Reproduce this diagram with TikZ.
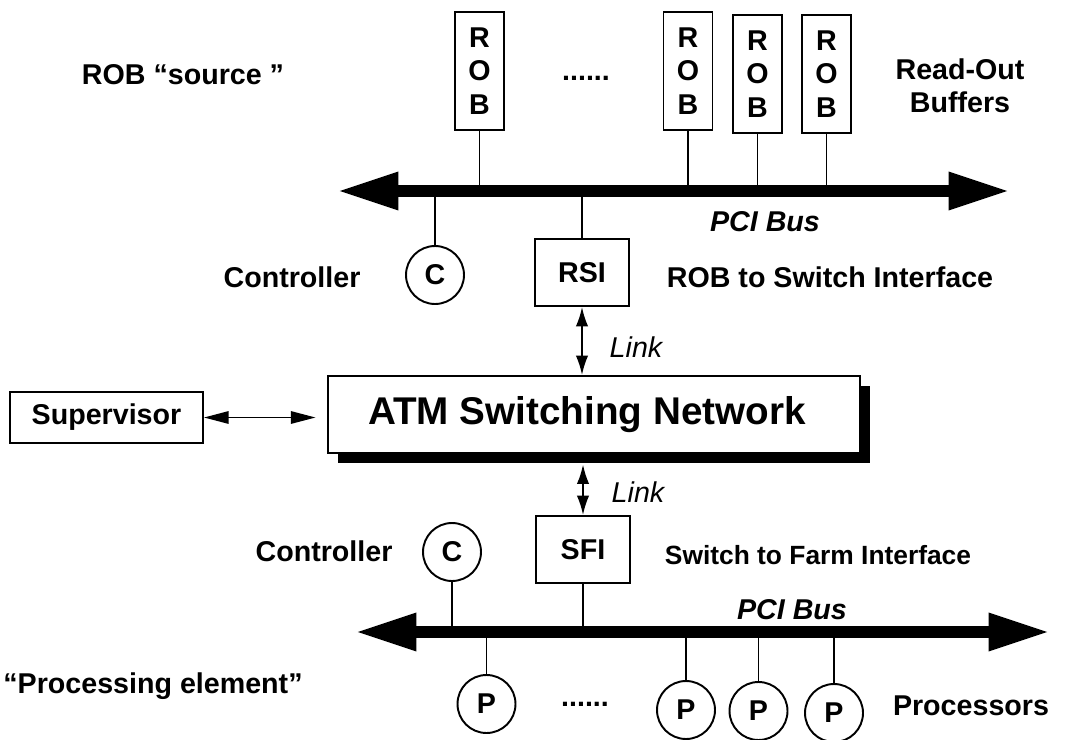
\documentclass[tikz,border=0pt]{standalone}
\usepackage{fontspec}
\setmainfont{Liberation Sans}
\usetikzlibrary{arrows.meta,shapes.geometric,shadows}

\tikzset{
  txt/.style={font=\fontsize{16.3}{19}\selectfont\bfseries},
  itxt/.style={font=\fontsize{16.3}{19}\selectfont\itshape},
  bitxt/.style={font=\fontsize{16.3}{19}\selectfont\bfseries\itshape},
  robbox/.style={draw, line width=1.1pt, txt, align=center, minimum width=0.98cm, minimum height=2.36cm, inner sep=0pt},
  ibox/.style={draw, line width=1.1pt, txt, minimum width=1.88cm, minimum height=1.34cm},
  pnode/.style={circle, draw, line width=1.1pt, txt, minimum size=1.16cm, inner sep=0pt},
  bus/.style={line width=6.8pt, {Triangle[length=35pt,width=20pt]}-{Triangle[length=35pt,width=20pt]}},
  link/.style={line width=1.1pt, {Latex[length=11pt,width=7pt]}-{Latex[length=11pt,width=7pt]}}
}

\begin{document}
\begin{tikzpicture}[x=0.02cm, y=-0.02cm]
    \useasboundingbox (0,0) rectangle (1078,740);

    % Parte de arriba
    \node[txt] (src) at (183,75) {ROB “source ”};
    \node[robbox] (rob1) at (479.5,71) {R\\O\\B};
    \node[robbox] (rob2) at (688,71) {R\\O\\B};
    \node[robbox] (rob3) at (757.5,74) {R\\O\\B};
    \node[robbox] (rob4) at (826.5,74) {R\\O\\B};
    \node[txt] (dots1) at (586,78) {......};
    \node[txt, align=center] (rdo) at (960,86) {Read-Out\\Buffers};

    \coordinate (busAL) at (337,191);
    \coordinate (busAR) at (1010,191);

    \node[pnode] (c1) at (435,275) {C};
    \node[ibox] (rsi) at (582,272.5) {RSI};
    \node[txt] (ctl1) at (292,277) {Controller};
    \node[txt] (rsitxt) at (830,277) {ROB to Switch Interface};
    \node[bitxt] (pci1) at (765,222) {PCI Bus};

    \draw[line width=1.1pt] (rob1.south) -- (rob1.south |- busAL);
    \draw[line width=1.1pt] (rob2.south) -- (rob2.south |- busAL);
    \draw[line width=1.1pt] (rob3.south) -- (rob3.south |- busAL);
    \draw[line width=1.1pt] (rob4.south) -- (rob4.south |- busAL);
    \draw[line width=1.1pt] (c1.north) -- (c1.north |- busAL);
    \draw[line width=1.1pt] (rsi.north) -- (rsi.north |- busAL);
    \draw[bus] (busAL) -- (busAR);

    % Red
    \node[draw, line width=1.1pt, fill=white, minimum width=10.66cm, minimum height=1.54cm,
          font=\fontsize{22}{26}\selectfont\bfseries,
          drop shadow={shadow xshift=5.7pt, shadow yshift=-5.7pt, fill=black, opacity=1}]
          (atm) at (594,414.5) {ATM Switching Network\hspace*{8pt}};
    \node[draw, line width=1.1pt, txt, minimum width=3.86cm, minimum height=1.02cm] (sup) at (106.5,417.5) {Supervisor};
    \draw[line width=1.1pt, {Triangle[length=14pt,width=7pt]}-{Triangle[length=14pt,width=7pt]}, shorten >=0.22cm] (sup.east) -- (sup.east -| atm.west);

    \node[ibox] (sfi) at (583,549.5) {SFI};
    \draw[link] (rsi.south) -- (rsi.south |- atm.north);
    \draw[link, shorten <=6pt] (sfi.north |- atm.south) -- (sfi.north);
    \node[itxt] (lnk1) at (636,347) {Link};
    \node[itxt] (lnk2) at (638,492) {Link};

    % Parte de abajo
    \node[pnode] (c2) at (452,552) {C};
    \node[txt] (ctl2) at (324,551) {Controller};
    \node[txt, font=\fontsize{15}{18}\selectfont\bfseries] (sfitxt) at (818,555) {Switch to Farm Interface};
    \node[bitxt] (pci2) at (792,610) {PCI Bus};

    \coordinate (busBL) at (355,632);
    \coordinate (busBR) at (1050,632);

    \node[pnode] (p1) at (486.5,704) {P};
    \node[pnode] (p2) at (686,710) {P};
    \node[pnode] (p3) at (758.5,711) {P};
    \node[pnode] (p4) at (834,713) {P};
    \node[txt] (dots2) at (585,704) {......};
    \node[txt] (pe) at (153,686) {“Processing element”};
    \node[txt] (procs) at (971,706) {Processors};

    \draw[line width=1.1pt] (c2.south) -- (c2.south |- busBL);
    \draw[line width=1.1pt] (sfi.south) -- (sfi.south |- busBL);
    \draw[line width=1.1pt] (p1.north) -- (p1.north |- busBL);
    \draw[line width=1.1pt] (p2.north) -- (p2.north |- busBL);
    \draw[line width=1.1pt] (p3.north) -- (p3.north |- busBL);
    \draw[line width=1.1pt] (p4.north) -- (p4.north |- busBL);
    \draw[bus] (busBL) -- (busBR);

\end{tikzpicture}
\end{document}
